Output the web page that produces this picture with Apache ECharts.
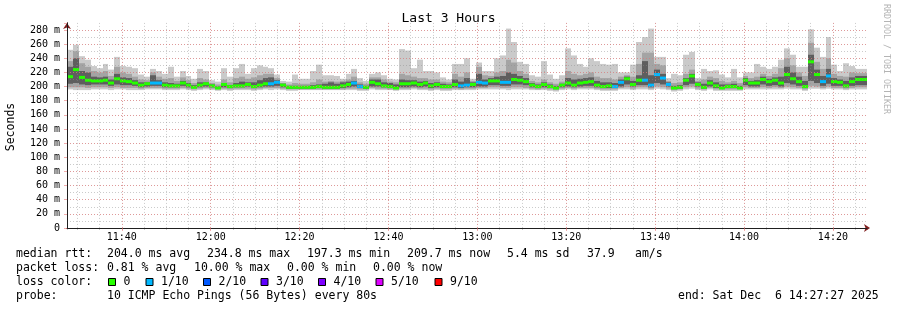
<!DOCTYPE html>
<html><head><meta charset="utf-8">
<script src="https://cdn.jsdelivr.net/npm/echarts@6.0.0/dist/echarts.min.js"></script>
<style>html,body{margin:0;padding:0;background:#fff}#c{width:897px;height:310px}</style>
</head><body><div id="c"></div>
<script>
// ---------- data ----------
const START = new Date(2025, 11, 6, 11, 27, 40).getTime(); // graph start
const STEP_SEC = 80;                                        // one probe round every 80 s
const median = [214,224,213,209,208,208,209,205,211,208,207,205,202,204,205,205,202,201,201,205,202,199,202,204,201,198,203,200,201,201,203,200,202,204,204,206,202,199,199,199,199,199,200,199,199,
199,201,203,205,200,199,206,204,201,200,198,204,204,205,203,205,201,203,200,200,203,201,202,
203,206,205,208,208,206,206,210,209,207,202,200,203,200,198,202,205,202,205,206,207,202,200,
201,200,206,211,203,209,209,202,217,212,203,198,199,209,215,203,199,205,201,198,200,200,198,
209,205,205,210,207,209,205,217,211,207,200,235,217,207,215,207,206,201,207,210,210];
const lossCount = [0,0,0,0,0,0,0,0,0,0,0,0,0,0,1,1,0,0,0,0,0,0,0,0,0,0,0,0,0,0,0,0,0,0,1,1,0,0,0,0,0,0,0,0,0,
0,0,0,1,1,0,0,0,0,0,0,0,0,0,0,0,0,0,0,0,0,1,1,
0,1,1,0,0,1,1,0,0,0,0,0,0,0,0,0,0,0,0,0,0,0,0,
0,1,1,0,0,0,1,1,1,1,1,0,0,0,0,0,0,0,0,0,0,0,0,
0,0,0,0,0,0,0,0,0,0,0,0,0,1,1,0,0,0,0,0,0];
const rttMax = [252,259,243,238,229,226,232,224,242,229,228,226,217,214,225,222,218,228,214,222,215,211,225,222,209,207,226,214,226,232,218,226,230,228,226,217,208,207,217,211,211,222,231,216,216,
215,211,218,225,212,208,218,220,216,211,210,253,251,226,238,222,222,220,213,210,232,232,240,
211,234,222,222,240,244,282,263,235,232,216,214,236,217,211,216,254,244,232,228,240,236,232,
231,232,220,220,231,263,270,282,242,242,212,218,216,245,249,212,225,222,223,217,213,225,213,
220,220,232,228,225,228,238,254,245,228,228,281,255,242,270,231,222,233,229,225,225];
const rttHi2 = [236,250,233,228,222,220,222,215,228,220,218,214,210,209,220,214,211,212,208,213,209,205,212,210,205,203,210,206,212,214,211,213,216,218,218,212,205,203,205,204,204,206,210,207,208,
207,208,210,214,206,204,213,213,210,207,206,218,216,214,212,212,210,210,207,206,218,214,220,
208,228,216,215,220,222,238,234,222,218,208,206,210,206,204,207,222,218,216,218,220,214,212,
212,210,214,216,214,232,248,248,232,230,208,205,206,218,224,208,210,214,212,208,206,208,205,
215,212,214,218,215,218,226,240,230,220,215,262,235,225,240,218,215,214,220,219,219];
const rttHi3 = [228,240,222,220,214,213,214,210,218,213,212,209,206,206,216,209,206,205,204,208,205,202,206,206,203,200,205,202,205,207,206,206,209,212,213,209,204,201,201,201,201,202,203,204,206,
204,206,207,208,203,201,210,210,206,205,203,210,209,209,207,208,205,206,204,203,210,207,212,
206,218,210,212,214,215,220,218,215,212,205,203,206,203,201,204,212,210,211,212,213,208,206,
206,205,210,214,208,216,236,216,224,218,206,201,202,212,218,206,204,209,206,203,203,204,201,
212,208,209,214,211,213,214,228,220,214,208,245,224,215,225,212,210,208,213,215,215];
const rttLo3 = [204,205,203,202,203,203,203,201,203,202,202,201,199,200,201,201,199,199,199,201,199,198,199,200,199,197,199,198,199,199,200,198,199,200,200,201,199,197,197,197,197,197,198,197,197,
197,198,199,200,198,197,200,200,199,198,197,199,199,200,199,200,198,199,198,198,199,198,199,
199,200,200,202,202,201,201,203,203,202,199,198,199,198,197,199,200,199,200,201,201,199,198,
198,198,200,203,200,202,202,199,205,203,200,197,197,202,204,200,197,200,198,197,198,198,197,
202,200,200,203,201,202,200,205,203,201,198,208,205,201,204,201,201,199,201,202,202];
const rttLo2 = [199,199,199,198,199,199,199,198,199,198,198,198,197,198,198,198,197,197,197,198,197,196,197,198,197,196,197,196,197,197,197,196,197,198,198,198,197,196,196,196,196,196,196,196,196,
196,196,197,197,196,196,198,197,197,196,196,197,197,198,197,197,196,197,196,196,197,196,197,
197,198,198,199,199,198,198,199,199,198,197,196,197,196,195,197,198,197,198,198,198,197,196,
196,196,198,199,197,199,199,197,200,199,197,195,196,199,200,197,196,198,196,196,196,196,196,
199,198,198,199,198,199,198,200,199,198,196,201,200,198,200,198,198,197,198,199,199];
const rttMin = [196,195,195,195,196,196,196,195,196,196,195,195,195,196,196,196,195,195,195,196,195,194,195,196,195,194,195,194,195,195,195,194,195,196,195,196,195,194,194,195,195,195,195,195,195,
195,195,195,195,194,194,196,195,195,195,194,195,195,196,195,195,194,195,194,194,195,195,195,
195,196,196,196,196,196,195,196,196,196,195,195,195,194,193,195,196,195,196,196,196,195,194,
194,194,196,196,195,196,196,195,197,196,195,193,194,196,197,195,194,196,194,194,194,194,194,
196,196,196,196,196,196,196,197,196,196,194,197,197,196,197,196,196,195,196,196,196];

const lossLabels = ['0','1/10','2/10','3/10','4/10','5/10','9/10'];
const lossColors = ['#26ff00','#00b8ff','#0059ff','#5e00ff','#7e00ff','#dd00ff','#ff0000'];
const statLines = [
  [['median rtt:',16],['204.0 ms avg',107],['234.8 ms max',207],['197.3 ms min',307],['209.7 ms now',407],['5.4 ms sd',507],['37.9',587],['am/s',635]],
  [['packet loss:',16],['0.81 % avg',107],['10.00 % max',194],['0.00 % min',287],['0.00 % now',373]],
  [['loss color:',16]],
  [['probe:',16],['10 ICMP Echo Pings (56 Bytes) every 80s',107],['end: Sat Dec  6 14:27:27 2025',678]]
];
const lineY = [254, 268, 282, 296];
const lossBoxX = [108.5, 146, 203.5, 261, 318.5, 376, 435];

// ---------- chart ----------
const FONT = "'DejaVu Sans Mono', monospace";
const STEP_MS = STEP_SEC * 1000;
const END = START + median.length * STEP_MS;
const rows = median.map((m, i) => [START + i*STEP_MS, START + (i+1)*STEP_MS,
  rttMin[i], rttLo2[i], rttLo3[i], rttHi3[i], rttHi2[i], rttMax[i], m, lossCount[i]]);

const MAJ = 'rgba(235,120,120,0.6)', MIN = 'rgba(140,140,140,0.45)';
const AXIS = '#1f1f1f', ARROW = '#801f1f';
const DASH = [1, 2];
const pad = n => (n < 10 ? '0' : '') + n;

const graphic = [];
function txt(x, y, text, extra) {
  graphic.push(Object.assign({type:'text', x:x, y:y, silent:true,
    style:{text:text, font:'11.5px ' + FONT, fill:'#000', align:'left', verticalAlign:'middle'}}, extra||{}));
}
statLines.forEach((ln, k) => ln.forEach(([t, x]) => txt(x, lineY[k], t)));
lossLabels.forEach((lab, k) => {
  graphic.push({type:'rect', silent:true, shape:{x:lossBoxX[k], y:lineY[2]-3.5, width:7, height:7},
    style:{fill:lossColors[k], stroke:'#000', lineWidth:1}});
  txt(lossBoxX[k] + 15, lineY[2], lab);
});
graphic.push({type:'text', x:448.5, y:19, silent:true, style:{text:'Last 3 Hours', font:'13px ' + FONT, fill:'#000', align:'center', verticalAlign:'middle'}});
graphic.push({type:'text', x:11, y:127, rotation:Math.PI/2, silent:true, style:{text:'Seconds', font:'11.5px ' + FONT, fill:'#000', align:'center', verticalAlign:'middle'}});
graphic.push({type:'text', x:886, y:4, rotation:-Math.PI/2, silent:true, style:{text:'RRDTOOL / TOBI OETIKER', font:'8.3px ' + FONT, fill:'#b4b4b4', align:'left', verticalAlign:'middle'}});

const chart = echarts.init(document.getElementById('c'), null, {renderer:'canvas'});
chart.setOption({
  animation:false,
  backgroundColor:'#fff',
  grid:{left:67, width:800, top:22.93, height:205.07, containLabel:false},
  xAxis:[
    {type:'time', min:START, max:END, position:'bottom', minInterval:25*60000, maxInterval:25*60000, z:4,
     axisLine:{show:true, lineStyle:{color:AXIS, width:1}},
     axisTick:{show:true, length:3, lineStyle:{color:MAJ}},
     axisLabel:{fontFamily:FONT, fontSize:10, color:'#000', margin:4, hideOverlap:false,
       formatter:v => { const d = new Date(v); return (d.getMinutes()%20 || d.getSeconds()) ? '' : pad(d.getHours()) + ':' + pad(d.getMinutes()); }},
     splitLine:{show:true, showMinLine:false, showMaxLine:false, lineStyle:{color:MAJ, type:DASH, width:1}}},
    {type:'time', min:START, max:END, position:'bottom', minInterval:7*60000, maxInterval:7*60000, z:3,
     axisLine:{show:true, symbol:['none','arrow'], symbolSize:[6,6], symbolOffset:[0,3], lineStyle:{color:ARROW, width:1}},
     axisTick:{show:true, length:2, lineStyle:{color:MIN}},
     axisLabel:{show:false},
     splitLine:{show:true, showMinLine:false, showMaxLine:false, lineStyle:{color:MIN, type:DASH, width:1}}}
  ],
  yAxis:[
    {type:'value', min:0, max:290, interval:20, position:'left', z:4,
     axisLine:{show:true, lineStyle:{color:AXIS, width:1}},
     axisTick:{show:true, length:3, lineStyle:{color:MAJ}},
     axisLabel:{fontFamily:FONT, fontSize:10, color:'#000', margin:7,
       formatter:v => (v > 280 || v % 20) ? '' : (v === 0 ? '0' : v + ' m')},
     splitLine:{show:true, showMinLine:false, showMaxLine:false, lineStyle:{color:MAJ, type:DASH, width:1}}},
    {type:'value', min:0, max:290, interval:10, position:'left', z:3,
     axisLine:{show:true, symbol:['none','arrow'], symbolSize:[6,6], lineStyle:{color:ARROW, width:1}},
     axisTick:{show:false}, axisLabel:{show:false},
     splitLine:{show:true, showMinLine:false, showMaxLine:false, lineStyle:{color:MIN, type:DASH, width:1}}}
  ],
  graphic:graphic,
  series:[{
    type:'custom', xAxisIndex:0, yAxisIndex:0, z:1, data:rows,
    encode:{x:[0,1], y:[2,7]},
    renderItem:(params, api) => {
      const t0 = api.value(0), t1 = api.value(1);
      const xa = Math.round(api.coord([t0, 0])[0]);
      const xb = Math.round(api.coord([t1, 0])[0]);
      const w = xb - xa;
      const Y = v => api.coord([t0, v])[1];
      const band = (lo, hi, c) => ({type:'rect', shape:{x:xa, y:Y(hi), width:w, height:Y(lo) - Y(hi)}, style:{fill:c}});
      const my = Y(api.value(8));
      return {type:'group', children:[
        band(api.value(2), api.value(7), '#cacaca'),
        band(api.value(3), api.value(6), '#a4a4a4'),
        band(api.value(4), api.value(5), '#5e5e5e'),
        {type:'rect', shape:{x:xa, y:my - 1.5, width:w, height:3}, style:{fill:lossColors[api.value(9)]}}
      ]};
    }
  }]
});
</script>
</body></html>
